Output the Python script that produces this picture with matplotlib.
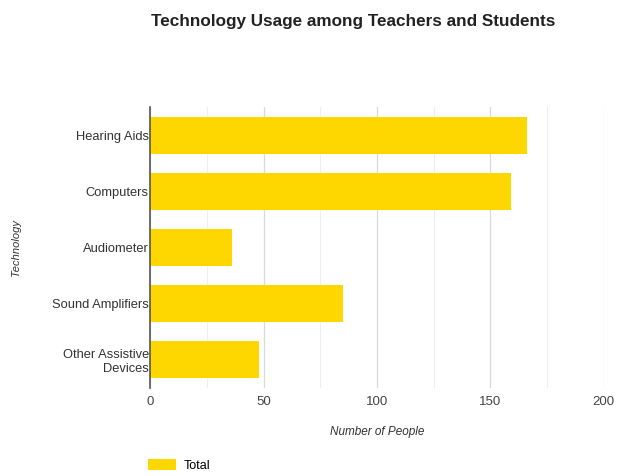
import matplotlib.pyplot as plt
import numpy as np

plt.rcParams['font.family'] = ['Liberation Sans', 'DejaVu Sans']

technologies = ['Hearing Aids', 'Computers', 'Audiometer', 'Sound Amplifiers', 'Other Assistive\nDevices']
totals = [166, 159, 36, 85, 48]
x_ticks = [0, 50, 100, 150, 200]

fig = plt.figure(figsize=(6.18, 4.76), dpi=100)
ax = fig.add_axes([0.243, 0.185, 0.734, 0.59])

y = np.arange(len(technologies))
ax.barh(y, totals, height=0.66, color='#FFD700', label='Total', zorder=3)
ax.set_ylim(len(technologies) - 0.5, -0.5)
ax.set_xlim(0, 200)

# major and minor gridlines every 25
ax.set_xticks(x_ticks)
ax.set_xticks(np.arange(25, 200, 50), minor=True)
ax.grid(axis='x', which='major', color='#d9d9d9', linewidth=0.9, zorder=0)
ax.grid(axis='x', which='minor', color='#eeeeee', linewidth=0.8, zorder=0)
ax.tick_params(which='both', length=0)
ax.tick_params(axis='x', labelsize=9.5, labelcolor='#444444', pad=6)
ax.tick_params(axis='y', labelsize=9.3, labelcolor='#333333', pad=1)

ax.set_yticks(y)
ax.set_yticklabels(technologies)
for lbl in ax.get_yticklabels():
    lbl.set_horizontalalignment('right')
    lbl.set_multialignment('right')

for s in ['top', 'right', 'bottom']:
    ax.spines[s].set_visible(False)
ax.spines['left'].set_color('#555555')
ax.spines['left'].set_linewidth(1.2)
ax.spines['left'].set_zorder(4)

ax.set_xlabel('Number of People', fontsize=8.5, style='italic', color='#333333', labelpad=13)
ax.set_ylabel('Technology', fontsize=8, style='italic', color='#333333')
ax.yaxis.set_label_coords(-0.285, 0.5)

fig.text(0.572, 0.955, 'Technology Usage among Teachers and Students',
         ha='center', va='center', fontsize=12.3, fontweight='bold', color='#222222')

ax.legend(loc='lower left', bbox_to_anchor=(-0.004, -0.298), frameon=False,
          fontsize=9, handlelength=2.2, handleheight=1.0, handletextpad=0.6,
          borderpad=0, borderaxespad=0)

fig.savefig('out.png', dpi=100, facecolor='white')
